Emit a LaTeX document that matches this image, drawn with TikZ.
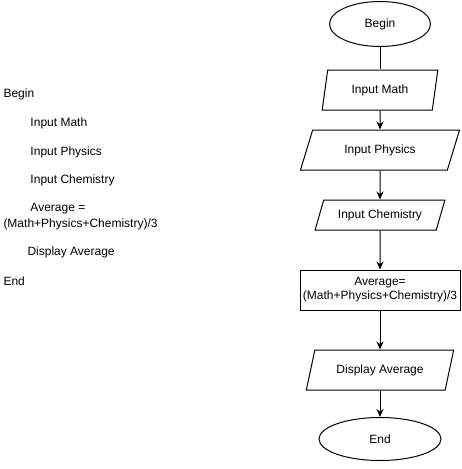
\documentclass[tikz,border=0pt]{standalone}
\usepackage{fontspec}
\setmainfont{Liberation Sans}
\usetikzlibrary{shapes.geometric,arrows.meta}

\tikzset{
  terminal/.style={draw,ellipse,inner sep=0pt},
  datos/.style={draw,trapezium,trapezium stretches=true,inner sep=0pt,align=center},
  proceso/.style={draw,rectangle,inner sep=0pt,align=center},
  flecha/.style={-{Stealth[length=8pt,width=7pt]}},
  pseudo/.style={anchor=west,inner sep=0pt}
}

\begin{document}
\begin{tikzpicture}[x=1pt,y=-1pt,line width=1pt,font=\fontsize{12}{14}\selectfont]

    \useasboundingbox (0,0) rectangle (461,469);

    % Pseudocódigo a la izquierda
    \node[pseudo] (pBegin) at (3,94) {Begin};
    \node[pseudo] (pMath) at (30,123) {Input Math};
    \node[pseudo] (pPhys) at (30,152) {Input Physics};
    \node[pseudo] (pChem) at (30,180) {Input Chemistry};
    \node[pseudo] (pAvgA) at (30,209) {Average =};
    \node[pseudo] (pAvgB) at (3,224) {(Math+Physics+Chemistry)/3};
    \node[pseudo] (pDisp) at (27,252) {Display Average};
    \node[pseudo] (pEnd) at (3,281) {End};

    % Diagrama de flujo
    \node[terminal,minimum width=101pt,minimum height=45pt] (begin) at (380,24) {Begin};
    \node[datos,trapezium left angle=75,trapezium right angle=105,
          minimum width=116pt,minimum height=40pt] (math) at (380,90) {Input Math};
    \node[datos,trapezium left angle=60,trapezium right angle=120,
          minimum width=160pt,minimum height=40pt] (phys) at (380,150) {Input Physics};
    \node[datos,trapezium left angle=60,trapezium right angle=120,
          minimum width=130pt,minimum height=30pt] (chem) at (380,215) {Input Chemistry};
    \node[proceso,minimum width=160pt,minimum height=40pt] (avg) at (380,290)
          {Average=\\(Math+Physics+Chemistry)/3};
    \node[datos,trapezium left angle=63,trapezium right angle=117,
          minimum width=148pt,minimum height=40pt] (disp) at (380,370) {Display Average};
    \node[terminal,minimum width=122pt,minimum height=43pt] (end) at (380,439) {End};

    % Conectores
    \draw (begin) -- (math);
    \draw[flecha] (math) -- (phys);
    \draw[flecha] (phys) -- (chem);
    \draw[flecha] (chem) -- (avg);
    \draw[flecha] (avg) -- (disp);
    \draw[flecha] (disp) -- (end);
\end{tikzpicture}
\end{document}
